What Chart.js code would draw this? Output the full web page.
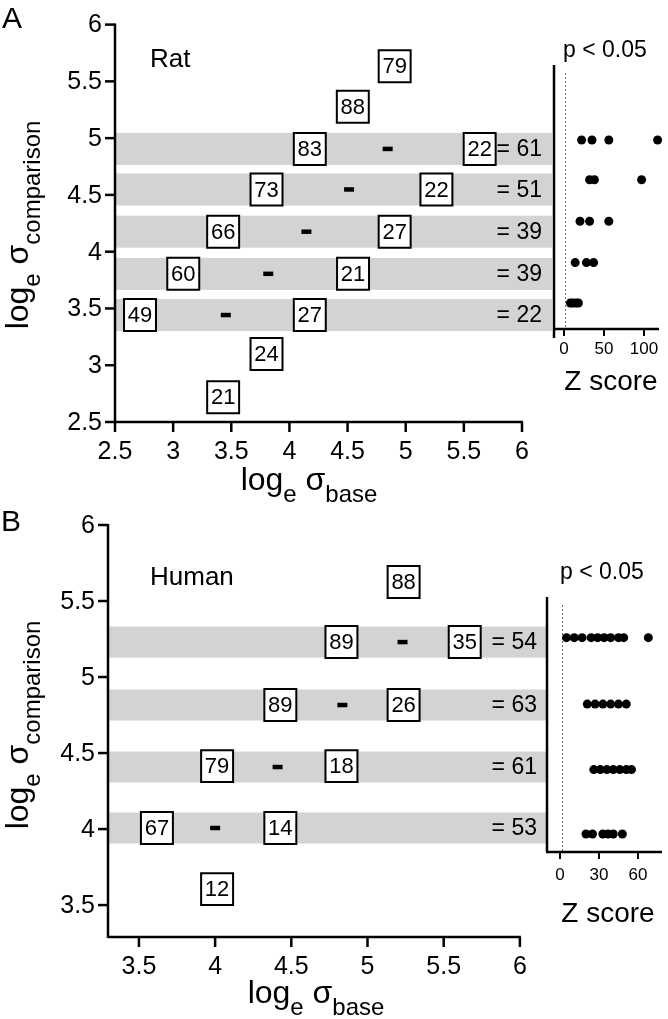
<!DOCTYPE html>
<html>
<head>
<meta charset="utf-8">
<script src="https://cdn.jsdelivr.net/npm/chart.js@4"></script>
<style>
body { margin: 0; background: #fff; }
#wrap { position: relative; width: 668px; height: 1019px; }
#wrap canvas { position: absolute; left: 0; top: 0; }
</style>
</head>
<body>
<div id="wrap">
<canvas id="ratMain" width="668" height="1019"></canvas>
<canvas id="ratZ" width="668" height="1019"></canvas>
<canvas id="humanMain" width="668" height="1019"></canvas>
<canvas id="humanZ" width="668" height="1019"></canvas>
</div>
<script>
var FONT = '"Liberation Sans", Arial, Helvetica, sans-serif';
Chart.defaults.font.family = FONT;
Chart.defaults.color = '#000';

// panel A - rat
var ratRows = [4.905, 4.548, 4.176, 3.805, 3.442];
var ratDiffs = ['= 61', '= 51', '= 39', '= 39', '= 22'];
var ratDashX = [4.845, 4.513, 4.146, 3.818, 3.453];
var ratBoxX = [4.905, 4.545, 4.175, 5.636, 3.803, 5.264, 3.43, 4.905, 3.087, 4.547, 2.715, 4.175, 3.803, 3.43];
var ratBoxY = [5.634, 5.277, 4.905, 4.905, 4.548, 4.548, 4.176, 4.176, 3.805, 3.805, 3.442, 3.442, 3.099, 2.718];
var ratBoxText = ['79', '88', '83', '22', '73', '22', '66', '27', '60', '21', '49', '27', '24', '21'];
var ratZ = [[22, 35, 56, 117], [32, 38, 97], [20, 32, 56], [14, 28, 37], [8, 11, 15, 18]];
var ratTicks = [2.5, 3, 3.5, 4, 4.5, 5, 5.5, 6];
var ratZTicks = [0, 50, 100];

// panel B - human
var humanRows = [5.23, 4.816, 4.408, 4.007];
var humanDiffs = ['= 54', '= 63', '= 61', '= 53'];
var humanDashX = [5.23, 4.835, 4.41, 4.0];
var humanBoxX = [5.237, 4.829, 5.638, 4.428, 5.237, 4.013, 4.829, 3.618, 4.428, 4.013];
var humanBoxY = [5.625, 5.23, 5.23, 4.816, 4.816, 4.414, 4.414, 4.007, 4.007, 3.605];
var humanBoxText = ['88', '89', '35', '89', '26', '79', '18', '67', '14', '12'];
var humanZ = [[5, 11, 17, 24, 29, 34, 39, 45, 49, 68], [21, 27, 33, 39, 45, 51], [26, 31, 36, 41, 46, 51, 55], [20, 25, 33, 37, 41, 48]];
var humanTicks = [3.5, 4, 4.5, 5, 5.5, 6];
var humanZTicks = [0, 30, 60];

var pCut = 1.96; // p < 0.05

// text with subscripts, parts = [text, size, dy]
function drawSub(ctx, parts, cx, cy, vertical) {
  ctx.save();
  ctx.translate(cx, cy);
  if (vertical) ctx.rotate(-Math.PI / 2);
  var total = 0;
  parts.forEach(function (p) {
    ctx.font = p[1] + 'px ' + FONT;
    total += ctx.measureText(p[0]).width;
  });
  var x = -total / 2;
  ctx.fillStyle = '#000';
  ctx.textAlign = 'left';
  ctx.textBaseline = 'alphabetic';
  parts.forEach(function (p) {
    ctx.font = p[1] + 'px ' + FONT;
    ctx.fillText(p[0], x, p[2]);
    x += ctx.measureText(p[0]).width;
  });
  ctx.restore();
}

function line(ctx, x1, y1, x2, y2, w) {
  ctx.save();
  ctx.strokeStyle = '#000';
  ctx.lineWidth = w;
  ctx.beginPath();
  ctx.moveTo(x1, y1);
  ctx.lineTo(x2, y2);
  ctx.stroke();
  ctx.restore();
}

function setTicks(list) {
  return function (s) { s.ticks = list.map(function (v) { return { value: v }; }); };
}

function mainChart(id, o) {
  var boxes = o.boxX.map(function (x, i) { return { x: x, y: o.boxY[i] }; });
  var dashes = o.dashX.map(function (x, i) { return { x: x, y: o.rows[i] }; });

  var deco = {
    id: 'deco',
    beforeDatasetsDraw: function (chart) {
      var ctx = chart.ctx, a = chart.chartArea, y = chart.scales.y;
      ctx.save();
      ctx.fillStyle = '#d3d3d3';
      o.rows.forEach(function (r) {
        var py = y.getPixelForValue(r);
        ctx.fillRect(a.left, py - o.band, a.right - a.left, o.band * 2);
      });
      ctx.restore();
    },
    afterDraw: function (chart) {
      var ctx = chart.ctx, a = chart.chartArea, x = chart.scales.x, y = chart.scales.y;
      var last = o.ticks[o.ticks.length - 1];
      // axes, tick marks and tick labels
      line(ctx, a.left, a.bottom, x.getPixelForValue(last) + 1, a.bottom, 2.5);
      line(ctx, a.left, a.bottom + 1, a.left, y.getPixelForValue(last) - 1, 2.5);
      ctx.save();
      ctx.fillStyle = '#000';
      ctx.font = '25px ' + FONT;
      ctx.textAlign = 'center';
      ctx.textBaseline = 'middle';
      x.ticks.forEach(function (t) {
        var px = x.getPixelForValue(t.value);
        line(ctx, px, a.bottom, px, a.bottom + 10, 2.5);
        ctx.fillText(String(t.value), px, a.bottom + 30);
      });
      ctx.textAlign = 'right';
      y.ticks.forEach(function (t) {
        var py = y.getPixelForValue(t.value);
        line(ctx, a.left - 10, py, a.left, py, 2.5);
        ctx.fillText(String(t.value), a.left - 13, py + 1);
      });
      // numbers in boxes
      var meta = chart.getDatasetMeta(0);
      ctx.font = '22px ' + FONT;
      ctx.textAlign = 'center';
      meta.data.forEach(function (pt, i) {
        ctx.fillText(o.boxText[i], pt.x, pt.y + 1);
      });
      // "= n"
      ctx.font = '23px ' + FONT;
      ctx.textAlign = 'right';
      o.rows.forEach(function (r, i) {
        ctx.fillText(o.diffs[i], a.right - 10, y.getPixelForValue(r) + 1);
      });
      // species and panel letter
      ctx.textAlign = 'left';
      ctx.textBaseline = 'alphabetic';
      ctx.font = '26px ' + FONT;
      ctx.fillText(o.name, o.namePos[0], o.namePos[1]);
      ctx.font = '30px ' + FONT;
      ctx.fillText(o.letter, o.letterPos[0], o.letterPos[1]);
      ctx.restore();
      drawSub(ctx, [['log', 32, 0], ['e', 24, 12], [' \u03c3', 32, 0], ['base', 24, 12]], o.xTitle[0], o.xTitle[1], false);
      drawSub(ctx, [['log', 32, 0], ['e', 24, 12], [' \u03c3', 32, 0], ['comparison', 24, 12]], o.yTitle[0], o.yTitle[1], true);
    }
  };

  return new Chart(document.getElementById(id), {
    type: 'scatter',
    data: {
      datasets: [{
        data: boxes,
        pointStyle: 'rect',
        pointRadius: 22.6,
        backgroundColor: '#fff',
        borderColor: '#000',
        borderWidth: 2,
        clip: false
      }, {
        data: dashes,
        pointStyle: 'line',
        pointRadius: 5,
        borderColor: '#000',
        borderWidth: 4.5,
        clip: false
      }]
    },
    options: {
      responsive: false,
      animation: false,
      events: [],
      layout: { padding: o.pad },
      plugins: { legend: { display: false }, tooltip: { enabled: false } },
      scales: {
        x: {
          type: 'linear', min: o.xMin, max: o.xMax,
          afterBuildTicks: setTicks(o.ticks),
          afterFit: function (s) { s.height = 50; },
          grid: { display: false },
          border: { display: false },
          ticks: { display: false }
        },
        y: {
          type: 'linear', min: o.yMin, max: o.yMax,
          afterBuildTicks: setTicks(o.ticks),
          afterFit: function (s) { s.width = o.yWidth; },
          grid: { display: false },
          border: { display: false },
          ticks: { display: false }
        }
      }
    },
    plugins: [deco]
  });
}

function zChart(id, o) {
  var pts = [];
  o.z.forEach(function (row, i) {
    row.forEach(function (v) { pts.push({ x: v, y: o.rows[i] }); });
  });

  var deco = {
    id: 'zdeco',
    beforeDatasetsDraw: function (chart) {
      var ctx = chart.ctx, a = chart.chartArea, x = chart.scales.x;
      var px = x.getPixelForValue(pCut);
      ctx.save();
      ctx.strokeStyle = '#666';
      ctx.lineWidth = 1;
      ctx.setLineDash([2, 2]);
      ctx.beginPath();
      ctx.moveTo(px, a.top + 8);
      ctx.lineTo(px, a.bottom);
      ctx.stroke();
      ctx.restore();
    },
    afterDraw: function (chart) {
      var ctx = chart.ctx, a = chart.chartArea, x = chart.scales.x;
      line(ctx, a.left, a.top, a.left, a.bottom + o.yExt, 2.5);
      line(ctx, a.left - 1, a.bottom, a.right, a.bottom, 2.5);
      ctx.save();
      ctx.fillStyle = '#000';
      ctx.font = '17px ' + FONT;
      ctx.textAlign = 'center';
      ctx.textBaseline = 'middle';
      x.ticks.forEach(function (t) {
        var px = x.getPixelForValue(t.value);
        line(ctx, px, a.bottom, px, a.bottom + 7, 2);
        ctx.fillText(String(t.value), px, a.bottom + o.labelOff);
      });
      ctx.textBaseline = 'alphabetic';
      ctx.textAlign = 'left';
      ctx.font = '23px ' + FONT;
      ctx.fillText('p < 0.05', o.pPos[0], o.pPos[1]);
      ctx.textAlign = 'center';
      ctx.font = '28px ' + FONT;
      ctx.fillText('Z score', o.zPos[0], o.zPos[1]);
      ctx.restore();
    }
  };

  return new Chart(document.getElementById(id), {
    type: 'scatter',
    data: {
      datasets: [{
        data: pts,
        pointRadius: 4.5,
        backgroundColor: '#000',
        borderWidth: 0,
        clip: false
      }]
    },
    options: {
      responsive: false,
      animation: false,
      events: [],
      layout: { padding: o.pad },
      plugins: { legend: { display: false }, tooltip: { enabled: false } },
      scales: {
        x: {
          type: 'linear', min: o.xMin, max: o.xMax,
          afterBuildTicks: setTicks(o.ticks),
          afterFit: function (s) { s.height = 40; },
          grid: { display: false },
          border: { display: false },
          ticks: { display: false }
        },
        y: { type: 'linear', min: o.yMin, max: o.yMax, display: false }
      }
    },
    plugins: [deco]
  });
}

mainChart('ratMain', {
  rows: ratRows, diffs: ratDiffs, dashX: ratDashX,
  boxX: ratBoxX, boxY: ratBoxY, boxText: ratBoxText, ticks: ratTicks,
  xMin: 2.5, xMax: 6.258, yMin: 2.5, yMax: 6,
  pad: { left: 0, top: 14, right: 116, bottom: 547 }, yWidth: 115, band: 16,
  name: 'Rat', namePos: [150, 67], letter: 'A', letterPos: [2, 28],
  xTitle: [309, 490], yTitle: [28, 225]
});

zChart('ratZ', {
  rows: ratRows, z: ratZ, ticks: ratZTicks,
  xMin: -12.5, xMax: 118.75, yMin: 3.209, yMax: 5.578,
  pad: { left: 554, top: 65, right: 9, bottom: 650 }, yExt: 9, labelOff: 20,
  pPos: [563, 57], zPos: [611, 390]
});

mainChart('humanMain', {
  rows: humanRows, diffs: humanDiffs, dashX: humanDashX,
  boxX: humanBoxX, boxY: humanBoxY, boxText: humanBoxText, ticks: humanTicks,
  xMin: 3.297, xMax: 6.178, yMin: 3.29, yMax: 6,
  pad: { left: 0, top: 525, right: 121, bottom: 32 }, yWidth: 108, band: 15.5,
  name: 'Human', namePos: [150, 585], letter: 'B', letterPos: [1, 531],
  xTitle: [316, 1003], yTitle: [28, 725]
});

zChart('humanZ', {
  rows: humanRows, z: humanZ, ticks: humanZTicks,
  xMin: -10, xMax: 78.5, yMin: 3.895, yMax: 5.483,
  pad: { left: 547, top: 597, right: 6, bottom: 127 }, yExt: 0, labelOff: 23,
  pPos: [560, 579], zPos: [608, 922]
});
</script>
</body>
</html>
